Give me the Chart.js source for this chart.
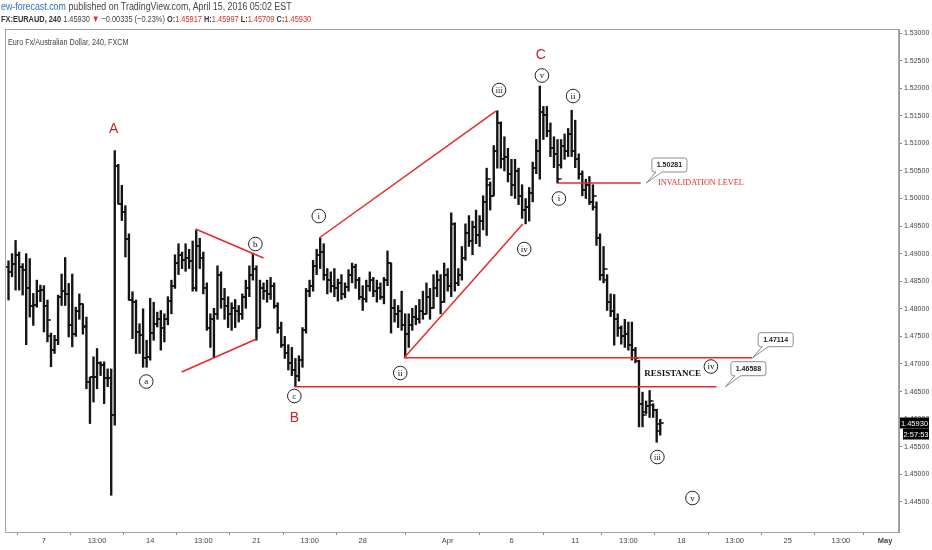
<!DOCTYPE html>
<html>
<head>
<meta charset="utf-8">
<script src="https://cdn.jsdelivr.net/npm/chart.js@4.4.1/dist/chart.umd.min.js"></script>
<style>
html,body{margin:0;padding:0;background:#fff;width:932px;height:550px;overflow:hidden;}
#wrap{position:relative;width:932px;height:550px;}
#c{position:absolute;left:0;top:0;}
.hd{position:absolute;left:1px;white-space:nowrap;font-family:'Liberation Sans Narrow','Liberation Sans',sans-serif;color:#444;transform-origin:0 0;}
#h1{top:1px;font-size:10px;transform:scaleX(0.885);}
#h2{top:13px;font-size:9.5px;transform:scaleX(0.78);}
#h1 .lnk{color:#2f6fbf;}
#h2 b{color:#333;}
#h2 .r{color:#d0312d;}
#ttl{position:absolute;left:8px;top:37px;font-family:'Liberation Sans Narrow','Liberation Sans',sans-serif;font-size:8.5px;color:#444;white-space:nowrap;transform-origin:0 0;transform:scaleX(0.85);}
</style>
</head>
<body>
<div id="wrap">
<canvas id="c" width="932" height="550"></canvas>
<div class="hd" id="h1"><span class="lnk">ew-forecast.com</span> published on TradingView.com, April 15, 2016 05:02 EST</div>
<div class="hd" id="h2"><b>FX:EURAUD, 240</b> 1.45930 <span class="r">&#9660;</span> &minus;0.00335 (&minus;0.23%) <b>O:</b><span class="r">1.45917</span> <b>H:</b><span class="r">1.45997</span> <b>L:</b><span class="r">1.45709</span> <b>C:</b><span class="r">1.45930</span></div>
<div id="ttl">Euro Fx/Australian Dollar, 240, FXCM</div>
</div>
<script>
// ---- data (4H bars, index 0 = Mon 7 Mar 00:00) ----
const firstBar = -10;
const opens = [
1.4876,1.4866,1.4882,1.4897,1.4876,1.4871,1.4837,1.4805,1.4807,1.4832,
1.4834,1.4806,1.4750,1.4726,1.4743,1.4822,1.4832,1.4827,1.4770,1.4755,
1.4796,1.4808,1.4767,1.4667,1.4676,1.4676,1.4701,1.4699,1.4675,1.4675,
1.4607,1.5059,1.4990,1.4976,1.4927,1.4816,1.4812,1.4758,1.4752,1.4710,
1.4713,1.4756,1.4773,1.4781,1.4766,1.4781,1.4814,1.4842,1.4883,1.4898,
1.4888,1.4893,1.4886,1.4837,1.4913,1.4893,1.4837,1.4766,1.4781,1.4791,
1.4862,1.4817,1.4806,1.4791,1.4801,1.4796,1.4791,1.4822,1.4837,1.4862,
1.4873,1.4766,1.4837,1.4832,1.4827,1.4842,1.4806,1.4766,1.4735,1.4720,
1.4702,1.4689,1.4679,1.4708,1.4761,1.4832,1.4842,1.4878,1.4898,1.4903,
1.4862,1.4852,1.4842,1.4837,1.4847,1.4827,1.4840,1.4862,1.4875,1.4852,
1.4822,1.4817,1.4842,1.4852,1.4832,1.4837,1.4822,1.4852,1.4883,1.4801,
1.4791,1.4796,1.4771,1.4755,1.4771,1.4786,1.4781,1.4796,1.4791,1.4822,
1.4801,1.4837,1.4852,1.4812,1.4862,1.4842,1.4954,1.4847,1.4862,1.4893,
1.4938,1.4923,1.4948,1.4933,1.4959,1.4994,1.5025,1.5005,1.5086,1.5137,
1.5071,1.5076,1.5045,1.5025,1.5050,1.5005,1.4979,1.4984,1.5010,1.5055,
1.5086,1.5157,1.5152,1.5122,1.5091,1.5081,1.5060,1.5096,1.5086,1.5117,
1.5086,1.5071,1.5045,1.5015,1.5025,1.4994,1.4984,1.4928,1.4862,1.4852,
1.4812,1.4796,1.4781,1.4766,1.4750,1.4755,1.4735,1.4725,1.4705,1.4628,
1.4613,1.4623,1.4626,1.4616,1.45917
];
const highs = [
1.4887,1.4900,1.4924,1.4903,1.4882,1.4900,1.4891,1.4828,1.4852,1.4843,
1.4842,1.4816,1.4756,1.4752,1.4825,1.4863,1.4893,1.4846,1.4863,1.4803,
1.4827,1.4809,1.4785,1.4676,1.4713,1.4728,1.4704,1.4704,1.4691,1.4691,
1.5087,1.5062,1.5024,1.4987,1.4936,1.4831,1.4816,1.4773,1.4800,1.4743,
1.4819,1.4812,1.4794,1.4797,1.4791,1.4822,1.4852,1.4898,1.4918,1.4903,
1.4918,1.4908,1.4923,1.4942,1.4928,1.4903,1.4847,1.4791,1.4801,1.4878,
1.4867,1.4837,1.4822,1.4811,1.4817,1.4806,1.4827,1.4852,1.4878,1.4901,
1.4878,1.4852,1.4847,1.4852,1.4857,1.4847,1.4811,1.4776,1.4750,1.4735,
1.4730,1.4710,1.4715,1.4766,1.4837,1.4852,1.4888,1.4908,1.4928,1.4918,
1.4873,1.4867,1.4873,1.4854,1.4862,1.4847,1.4871,1.4883,1.4881,1.4857,
1.4842,1.4852,1.4867,1.4857,1.4852,1.4847,1.4857,1.4905,1.4883,1.4817,
1.4806,1.4832,1.4791,1.4791,1.4801,1.4806,1.4817,1.4832,1.4847,1.4837,
1.4862,1.4869,1.4862,1.4883,1.4873,1.4974,1.4956,1.4873,1.4913,1.4954,
1.4969,1.4959,1.4979,1.4969,1.5005,1.5055,1.5030,1.5096,1.5159,1.5139,
1.5112,1.5091,1.5071,1.5071,1.5055,1.5025,1.5000,1.5020,1.5066,1.5107,
1.5204,1.5167,1.5167,1.5137,1.5112,1.5107,1.5107,1.5117,1.5127,1.5160,
1.5142,1.5081,1.5050,1.5035,1.5040,1.5025,1.4994,1.4936,1.4913,1.4862,
1.4827,1.4826,1.4791,1.4769,1.4781,1.4776,1.4776,1.4730,1.4707,1.4649,
1.4633,1.4652,1.4628,1.4618,1.45997
];
const lows = [
1.4816,1.4858,1.4834,1.4834,1.4825,1.4735,1.4785,1.4770,1.4803,1.4813,
1.4758,1.4740,1.4695,1.4719,1.4735,1.4806,1.4806,1.4749,1.4731,1.4750,
1.4781,1.4754,1.4655,1.4592,1.4631,1.4655,1.4679,1.4628,1.4659,1.4462,
1.4589,1.4990,1.4960,1.4894,1.4816,1.4746,1.4719,1.4719,1.4694,1.4694,
1.4707,1.4743,1.4767,1.4725,1.4740,1.4771,1.4791,1.4837,1.4862,1.4873,
1.4868,1.4873,1.4832,1.4832,1.4873,1.4827,1.4761,1.4730,1.4711,1.4781,
1.4801,1.4781,1.4766,1.4761,1.4766,1.4776,1.4781,1.4801,1.4822,1.4852,
1.4743,1.4766,1.4817,1.4812,1.4817,1.4801,1.4756,1.4730,1.4710,1.4689,
1.4679,1.4659,1.4669,1.4694,1.4756,1.4822,1.4832,1.4862,1.4873,1.4852,
1.4827,1.4830,1.4822,1.4814,1.4817,1.4820,1.4832,1.4847,1.4837,1.4817,
1.4797,1.4812,1.4832,1.4822,1.4812,1.4817,1.4809,1.4842,1.4756,1.4776,
1.4766,1.4761,1.4711,1.4730,1.4761,1.4771,1.4774,1.4781,1.4791,1.4781,
1.4801,1.4822,1.4791,1.4812,1.4832,1.4822,1.4832,1.4842,1.4852,1.4888,
1.4913,1.4898,1.4918,1.4913,1.4943,1.4933,1.4979,1.5005,1.5055,1.5055,
1.5050,1.5030,1.5005,1.5000,1.4989,1.4964,1.4954,1.4959,1.4994,1.5045,
1.5035,1.5107,1.5112,1.5076,1.5056,1.5028,1.5055,1.5071,1.5076,1.5076,
1.5056,1.5035,1.5005,1.5000,1.4989,1.4979,1.4915,1.4852,1.4847,1.4797,
1.4786,1.4734,1.4750,1.4736,1.4730,1.4725,1.4707,1.4702,1.4586,1.4586,
1.4610,1.4603,1.4603,1.4558,1.45709
];
const closes = [
1.4866,1.4882,1.4897,1.4876,1.4871,1.4837,1.4805,1.4807,1.4832,1.4834,
1.4806,1.4779,1.4726,1.4743,1.4822,1.4832,1.4827,1.4770,1.4755,1.4796,
1.4808,1.4769,1.4667,1.4676,1.4676,1.4701,1.4699,1.4675,1.4675,1.4607,
1.5059,1.4990,1.4976,1.4927,1.4816,1.4812,1.4758,1.4752,1.4710,1.4713,
1.4756,1.4773,1.4781,1.4766,1.4781,1.4814,1.4842,1.4883,1.4898,1.4888,
1.4893,1.4886,1.4837,1.4913,1.4893,1.4837,1.4766,1.4781,1.4791,1.4862,
1.4817,1.4806,1.4791,1.4801,1.4796,1.4791,1.4822,1.4837,1.4862,1.4873,
1.4766,1.4837,1.4832,1.4827,1.4842,1.4806,1.4766,1.4735,1.4720,1.4702,
1.4689,1.4679,1.4708,1.4761,1.4832,1.4842,1.4878,1.4898,1.4903,1.4862,
1.4852,1.4842,1.4837,1.4847,1.4827,1.4840,1.4862,1.4875,1.4852,1.4822,
1.4817,1.4842,1.4852,1.4832,1.4837,1.4822,1.4852,1.4883,1.4801,1.4791,
1.4796,1.4771,1.4755,1.4771,1.4786,1.4781,1.4796,1.4791,1.4822,1.4801,
1.4837,1.4852,1.4812,1.4862,1.4842,1.4954,1.4847,1.4862,1.4893,1.4938,
1.4923,1.4948,1.4933,1.4959,1.4994,1.5035,1.5005,1.5086,1.5137,1.5071,
1.5076,1.5045,1.5025,1.5050,1.5005,1.4979,1.4984,1.5010,1.5055,1.5086,
1.5157,1.5152,1.5122,1.5091,1.5081,1.5035,1.5096,1.5086,1.5117,1.5086,
1.5071,1.5045,1.5015,1.5025,1.4994,1.5005,1.4928,1.4862,1.4873,1.4812,
1.4796,1.4781,1.4766,1.4750,1.4755,1.4735,1.4725,1.4710,1.4628,1.4608,
1.4623,1.4633,1.4616,1.4579,1.45930
];

// axis tick values / labels
const yTicks = [1.445,1.450,1.455,1.460,1.465,1.470,1.475,1.480,1.485,1.490,1.495,1.500,1.505,1.510,1.515,1.520,1.525,1.530];
const xTickPos = [0,15,30,45,60,75,90,114,132,150,165,180,195,210,225,237.5];
const xTickLabels = ['7','13:00','14','13:00','21','13:00','28','Apr','6','11','13:00','18','13:00','25','13:00','May'];

// red drawing lines [barIndex, price]
const triUpper   = [[42.8,1.49447],[62.0,1.48921]];
const triLower   = [[38.9,1.46854],[60.0,1.47453]];
const wedgeUpper = [[77.7,1.49284],[127.6,1.51586]];
const wedgeLower = [[101.7,1.47114],[135.2,1.49537]];
const resLine1   = [[101.7,1.47114],[200.0,1.47114]];
const resLine2   = [[70.7,1.46588],[189.9,1.46588]];
const invLine    = [[145.0,1.50281],[168.5,1.50281]];

// wave labels [text, barIndex, price]
const waveCircles = [
 ['a',28.9,1.46682],['b',59.7,1.49175],['c',70.7,1.46419],['i',77.6,1.49682],
 ['ii',100.6,1.46836],['iii',128.5,1.51967],['iv',135.6,1.49084],['v',140.6,1.52230],
 ['i',145.4,1.50000],['ii',149.4,1.51858],['iv',188.3,1.46954],['iii',173.2,1.45313],['v',183.1,1.44570]
];
const waveLetters = [['A',19.7,1.51260],['B',70.7,1.46020],['C',140.3,1.52601]];
const callouts = [['1.50281',170.1,1.50281],['1.47114',200.1,1.47114],['1.46588',192.4,1.46588]];
const noteTexts = [['RESISTANCE',177.5,1.46827],['INVALIDATION LEVEL',173.4,1.50281]];
const countdown = '2:57:53';

// ---- build ----
const barIdx = opens.map((_,k)=>firstBar+k);
const rangeData = barIdx.map((x,k)=>({x:x, y:[lows[k],highs[k]]}));
const openData  = barIdx.map((x,k)=>({x:x, y:opens[k]}));
const closeData = barIdx.map((x,k)=>({x:x, y:closes[k]}));
const seg = pts => pts.map(p=>({x:p[0], y:p[1]}));

function tickImg(left){
  const c = document.createElement('canvas');
  c.width = 8; c.height = 2;
  const g = c.getContext('2d');
  g.fillStyle = '#141414';
  if (left) g.fillRect(0.4,0.2,3.8,1.6); else g.fillRect(3.8,0.2,3.8,1.6);
  return c;
}
const RED = '#e8282b';
const NARROW = "'Liberation Sans Narrow','Liberation Sans',sans-serif";

const lineDs = [triUpper,triLower,wedgeUpper,wedgeLower,resLine1,resLine2,invLine].map(s=>({
  type:'line', data:seg(s), borderColor:RED, borderWidth:1.5, pointRadius:0, fill:false, tension:0, order:0
}));

const annot = {
  id:'annot',
  beforeDraw(chart){
    const g = chart.ctx;
    g.save(); g.fillStyle = '#fff'; g.fillRect(0,0,chart.width,chart.height); g.restore();
  },
  afterDraw(chart){
    const g = chart.ctx, xs = chart.scales.x, ys = chart.scales.y, a = chart.chartArea;
    g.save();
    // frame
    g.strokeStyle = '#a5a5a5'; g.lineWidth = 1;
    g.strokeRect(a.left+0.5, a.top+0.5, a.right-a.left-1, a.bottom-a.top);
    // letters A B C
    g.fillStyle = '#c0262b';
    g.font = "14px 'Liberation Sans', Arial, sans-serif";
    g.textAlign = 'center'; g.textBaseline = 'middle';
    waveLetters.forEach(w=>g.fillText(w[0], xs.getPixelForValue(w[1]), ys.getPixelForValue(w[2])));
    // circled wave labels
    waveCircles.forEach(w=>{
      const px = xs.getPixelForValue(w[1]), py = ys.getPixelForValue(w[2]);
      g.beginPath(); g.arc(px, py, 6.8, 0, Math.PI*2);
      g.fillStyle = '#fff'; g.fill();
      g.strokeStyle = '#222'; g.lineWidth = 1; g.stroke();
      g.fillStyle = '#111';
      g.font = (w[0].length>2 ? "8px" : "9px") + " 'Liberation Serif', serif";
      g.fillText(w[0], px, py+0.5);
    });
    // notes
    let t = noteTexts[0];
    g.font = "bold 9px 'Liberation Serif', serif"; g.fillStyle = '#111'; g.textAlign='center';
    g.fillText(t[0], xs.getPixelForValue(t[1]), ys.getPixelForValue(t[2]));
    t = noteTexts[1];
    g.font = "8.2px 'Liberation Serif', serif"; g.fillStyle = RED; g.textAlign='left';
    g.fillText(t[0], xs.getPixelForValue(t[1]), ys.getPixelForValue(t[2]));
    // callouts
    callouts.forEach(c=>{
      const tx = xs.getPixelForValue(c[1]), ty = ys.getPixelForValue(c[2]);
      const L = tx+5.5, T = ty-25, W = 35, H = 14, R = L+W, B = T+H, r = 2.5;
      g.beginPath();
      g.moveTo(L+r,T); g.lineTo(R-r,T); g.quadraticCurveTo(R,T,R,T+r);
      g.lineTo(R,B-r); g.quadraticCurveTo(R,B,R-r,B);
      g.lineTo(L+10,B); g.lineTo(tx,ty); g.lineTo(L+4,B);
      g.lineTo(L+r,B); g.quadraticCurveTo(L,B,L,B-r);
      g.lineTo(L,T+r); g.quadraticCurveTo(L,T,L+r,T); g.closePath();
      g.fillStyle = '#fff'; g.fill();
      g.strokeStyle = '#8c8c8c'; g.lineWidth = 1; g.stroke();
      g.fillStyle = '#222'; g.font = "bold 7px 'Liberation Sans', Arial, sans-serif";
      g.textAlign = 'center'; g.textBaseline = 'middle';
      g.fillText(c[0], L+W/2, T+H/2+0.5);
    });
    // last price label + countdown
    const last = closes.length-1;
    const yp = ys.getPixelForValue(closes[last]);
    g.fillStyle = '#000';
    g.fillRect(a.right+1, yp-5.5, 29, 11);
    g.fillRect(a.right+4, yp+5.5, 26, 11);
    g.fillStyle = '#fff'; g.font = "7.5px " + NARROW; g.textAlign='center'; g.textBaseline='middle';
    g.fillText(closes[last].toFixed(5), a.right+15.5, yp+0.5);
    g.fillText(countdown, a.right+17, yp+11.5);
    g.restore();
  }
};

new Chart(document.getElementById('c'), {
  type:'bar',
  data:{ datasets:[
    {type:'bar', data:rangeData, backgroundColor:'#141414', barThickness:1.7, grouped:false, order:3},
    {type:'scatter', data:openData, pointStyle:tickImg(true), pointRadius:3, order:2},
    {type:'scatter', data:closeData, pointStyle:tickImg(false), pointRadius:3, order:2},
    ...lineDs
  ]},
  options:{
    responsive:false, animation:false,
    layout:{padding:{top:29,left:3,right:0,bottom:0}},
    plugins:{legend:{display:false}, tooltip:{enabled:false}},
    events:[],
    scales:{
      x:{
        type:'linear', position:'bottom', min:-10.986, max:241.41, offset:false,
        afterBuildTicks(s){ s.ticks = xTickPos.map(v=>({value:v})); },
        afterFit(s){ s.height = 18; },
        ticks:{autoSkip:false, maxRotation:0, padding:1, color:'#444',
               font:(c)=>({family:NARROW, size:7.5, weight:(c.index===xTickLabels.length-1?'bold':'normal')}),
               callback:(v,i)=>xTickLabels[i]},
        grid:{display:true, drawOnChartArea:false, drawTicks:true, tickLength:3, color:'#888'},
        border:{display:true, color:'#999'}
      },
      y:{
        type:'linear', position:'right', min:1.43954, max:1.53073,
        afterBuildTicks(s){ s.ticks = yTicks.map(v=>({value:v})); },
        afterFit(s){ s.width = 33; },
        ticks:{padding:2, color:'#444', font:{family:NARROW, size:7}, callback:(v)=>Number(v).toFixed(5)},
        grid:{display:true, drawOnChartArea:false, drawTicks:true, tickLength:3, color:'#888'},
        border:{display:true, color:'#999'}
      }
    }
  },
  plugins:[annot]
});
</script>
</body>
</html>
